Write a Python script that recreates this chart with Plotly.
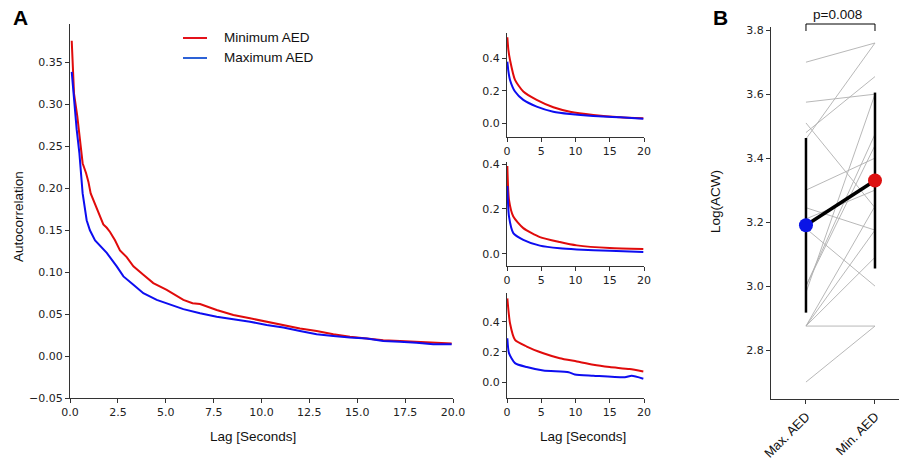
import plotly.graph_objects as go

W, H = 899, 460

# ---------------- data ----------------
main_min_lag = [0.09, 0.21, 0.38, 0.52, 0.66, 0.84, 0.96, 1.08, 1.22, 1.39, 1.57, 1.74, 1.92, 2.09, 2.35, 2.61,
                2.96, 3.31, 3.83, 4.35, 5.05, 5.92, 6.40, 6.79, 7.66, 8.53, 9.40, 10.27, 11.14, 12.01, 12.88,
                13.75, 14.62, 15.49, 16.36, 17.23, 18.10, 18.97, 19.93]
main_min_val = [0.376, 0.313, 0.286, 0.258, 0.230, 0.218, 0.208, 0.194, 0.186, 0.178, 0.166, 0.157, 0.153, 0.148,
                0.138, 0.126, 0.118, 0.107, 0.097, 0.087, 0.079, 0.067, 0.063, 0.062, 0.055, 0.049, 0.045,
                0.041, 0.037, 0.033, 0.030, 0.026, 0.023, 0.021, 0.019, 0.018, 0.017, 0.016, 0.015]
main_max_lag = [0.09, 0.21, 0.35, 0.49, 0.66, 0.87, 1.04, 1.31, 1.62, 1.92, 2.44, 2.79, 3.31, 3.83, 4.53, 5.05,
                5.40, 5.92, 6.79, 7.66, 8.53, 9.40, 10.27, 11.14, 12.01, 12.88, 13.75, 14.62, 15.49, 16.36,
                17.23, 18.10, 18.97, 19.93]
main_max_val = [0.339, 0.302, 0.270, 0.242, 0.194, 0.162, 0.150, 0.138, 0.130, 0.123, 0.107, 0.095, 0.085,
                0.075, 0.067, 0.063, 0.060, 0.056, 0.051, 0.047, 0.044, 0.041, 0.037, 0.034, 0.030, 0.026,
                0.024, 0.022, 0.021, 0.018, 0.017, 0.016, 0.014, 0.014]

p1_min_lag = [0.05, 0.2, 0.44, 1.17, 2.38, 4.33, 6.76, 9.2, 12.6, 16.5, 19.9]
p1_min_val = [0.527, 0.45, 0.388, 0.266, 0.195, 0.144, 0.099, 0.072, 0.052, 0.038, 0.032]
p1_max_lag = [0.05, 0.2, 0.44, 1.17, 2.38, 4.33, 6.76, 9.2, 12.6, 16.5, 19.9]
p1_max_val = [0.378, 0.32, 0.266, 0.195, 0.144, 0.103, 0.072, 0.058, 0.046, 0.038, 0.028]

p2_min_lag = [0.05, 0.29, 0.92, 2.38, 4.8, 7.7, 10.2, 15.0, 19.9]
p2_min_val = [0.391, 0.24, 0.166, 0.114, 0.074, 0.052, 0.037, 0.025, 0.021]
p2_max_lag = [0.05, 0.29, 0.92, 2.38, 4.8, 7.7, 10.2, 15.0, 19.9]
p2_max_val = [0.302, 0.166, 0.092, 0.062, 0.036, 0.024, 0.019, 0.013, 0.008]

p3_min_lag = [0.05, 0.44, 1.17, 2.88, 5.3, 7.7, 10.2, 12.6, 15.0, 17.9, 19.9]
p3_min_val = [0.554, 0.389, 0.279, 0.235, 0.191, 0.158, 0.136, 0.114, 0.099, 0.086, 0.070]
p3_max_lag = [0.05, 0.29, 1.17, 2.88, 5.3, 9.0, 9.9, 12.6, 17.2, 18.2, 19.9]
p3_max_val = [0.29, 0.191, 0.125, 0.099, 0.076, 0.064, 0.050, 0.042, 0.031, 0.041, 0.022]

# Panel B: per-subject log(ACW)
acw_max_aed = [3.70, 3.46, 3.575, 3.48, 3.51, 3.18, 2.875, 2.875, 2.875, 2.70, 3.00, 3.00, 3.30, 3.245,
               2.875, 3.21, 2.98]
acw_min_aed = [3.76, 3.76, 3.60, 3.655, 3.245, 3.00, 3.175, 3.25, 2.875, 2.875, 3.44, 3.475, 3.40, 3.175,
               3.09, 3.30, 3.60]
group_labels = ["Max. AED", "Min. AED"]
group_means = [3.19, 3.33]
group_sds = [0.273, 0.275]
p_text = "p=0.008"

# ---------------- styling ----------------
RED = "#e00b0b"
BLUE = "#0d0df0"
TICKFONT = dict(family="DejaVu Sans", size=11, color="#222")
LABFONT = dict(family="Liberation Sans, Arial", size=13.5, color="#111")


def px_x(x):
    return x / W


def px_y(y):
    return 1 - y / H


def axis(domain, rng, **kw):
    d = dict(domain=domain, range=rng, showline=True, linecolor="#333", linewidth=1,
             ticks="outside", ticklen=4, tickcolor="#333", showgrid=False, zeroline=False,
             tickfont=TICKFONT, fixedrange=True, automargin=False)
    d.update(kw)
    return d


fig = go.Figure()

# main panel
fig.add_trace(go.Scatter(x=main_min_lag, y=main_min_val, mode="lines", line=dict(color=RED, width=2),
                         xaxis="x", yaxis="y", showlegend=False))
fig.add_trace(go.Scatter(x=main_max_lag, y=main_max_val, mode="lines", line=dict(color=BLUE, width=2),
                         xaxis="x", yaxis="y", showlegend=False))

# small panels
for i, (lmn, vmn, lmx, vmx) in enumerate([(p1_min_lag, p1_min_val, p1_max_lag, p1_max_val),
                                          (p2_min_lag, p2_min_val, p2_max_lag, p2_max_val),
                                          (p3_min_lag, p3_min_val, p3_max_lag, p3_max_val)]):
    k = i + 2
    fig.add_trace(go.Scatter(x=lmn, y=vmn, mode="lines", line=dict(color=RED, width=2, shape="spline", smoothing=0.6),
                             xaxis=f"x{k}", yaxis=f"y{k}", showlegend=False))
    fig.add_trace(go.Scatter(x=lmx, y=vmx, mode="lines", line=dict(color=BLUE, width=2, shape="spline", smoothing=0.6),
                             xaxis=f"x{k}", yaxis=f"y{k}", showlegend=False))

# panel B
for a, b in zip(acw_max_aed, acw_min_aed):
    fig.add_trace(go.Scatter(x=[0, 1], y=[a, b], mode="lines", line=dict(color="#b0b0b0", width=0.9),
                             xaxis="x5", yaxis="y5", showlegend=False, hoverinfo="skip"))
fig.add_trace(go.Scatter(x=[0, 1], y=group_means, mode="lines", line=dict(color="black", width=3.5),
                         xaxis="x5", yaxis="y5", showlegend=False,
                         error_y=dict(type="data", array=group_sds, visible=True, color="black",
                                      thickness=2.5, width=0)))
fig.add_trace(go.Scatter(x=[0, 1], y=group_means, mode="markers",
                         marker=dict(color=["#0a14e6", "#dd1111"], size=14, line=dict(width=0)),
                         xaxis="x5", yaxis="y5", showlegend=False))

layout = dict(
    width=W, height=H, margin=dict(l=0, r=0, t=0, b=0, pad=0, autoexpand=False),
    paper_bgcolor="white", plot_bgcolor="white", showlegend=False,
    xaxis=axis([px_x(70), px_x(453)], [0, 20], tickvals=[0, 2.5, 5, 7.5, 10, 12.5, 15, 17.5, 20],
               ticktext=["0.0", "2.5", "5.0", "7.5", "10.0", "12.5", "15.0", "17.5", "20.0"], anchor="y"),
    yaxis=axis([px_y(398), px_y(24)], [-0.05, 0.396],
               tickvals=[-0.05, 0, 0.05, 0.1, 0.15, 0.2, 0.25, 0.3, 0.35],
               ticktext=["\u22120.05", "0.00", "0.05", "0.10", "0.15", "0.20", "0.25", "0.30", "0.35"],
               anchor="x"),
)
small = [((137, 33), [-0.083, 0.553]), ((266, 162), [-0.055, 0.409]), ((398, 293), [-0.106, 0.59])]
for i, ((yb, yt), rng) in enumerate(small):
    k = i + 2
    layout[f"xaxis{k}"] = axis([px_x(507), px_x(644)], [0, 20], tickvals=[0, 5, 10, 15, 20], anchor=f"y{k}")
    layout[f"yaxis{k}"] = axis([px_y(yb), px_y(yt)], rng, tickvals=[0, 0.2, 0.4],
                               ticktext=["0.0", "0.2", "0.4"], anchor=f"x{k}")
layout["xaxis5"] = axis([px_x(771), 1.0], [-0.507, 1.348], tickvals=[0, 1], ticktext=group_labels,
                        tickangle=-45, tickfont=dict(family="Liberation Sans, Arial", size=13, color="#111"),
                        anchor="y5")
layout["yaxis5"] = axis([px_y(399), px_y(27)], [2.647, 3.81], tickvals=[2.8, 3.0, 3.2, 3.4, 3.6, 3.8],
                        ticktext=["2.8", "3.0", "3.2", "3.4", "3.6", "3.8"], anchor="x5")
fig.update_layout(**layout)

ann = []


def text(x, y, s, font, angle=0, **kw):
    d = dict(x=px_x(x), y=px_y(y), xref="paper", yref="paper", text=s, showarrow=False,
             font=font, textangle=angle, xanchor="center", yanchor="middle")
    d.update(kw)
    ann.append(d)


text(20, 17, "<b>A</b>", dict(family="Liberation Sans, Arial", size=21, color="black"))
text(720, 17, "<b>B</b>", dict(family="Liberation Sans, Arial", size=21, color="black"))
text(253, 436, "Lag [Seconds]", LABFONT)
text(583, 436, "Lag [Seconds]", LABFONT)
text(18, 217, "Autocorrelation", LABFONT, angle=-90)
text(715, 202, "Log(ACW)", LABFONT, angle=-90)
text(837, 14, p_text, LABFONT)
text(222, 38, "Minimum AED", LABFONT, xanchor="left")
text(222, 58, "Maximum AED", LABFONT, xanchor="left")
fig.update_layout(annotations=ann)

shapes = [
    dict(type="line", xref="paper", yref="paper", x0=px_x(183), x1=px_x(207), y0=px_y(38), y1=px_y(38),
         line=dict(color="#e3121b", width=2)),
    dict(type="line", xref="paper", yref="paper", x0=px_x(183), x1=px_x(207), y0=px_y(58), y1=px_y(58),
         line=dict(color="#2d62d6", width=2)),
    dict(type="path", xref="x5", yref="paper",
         path=f"M 0,{px_y(31)} L 0,{px_y(24)} L 1,{px_y(24)} L 1,{px_y(31)}",
         line=dict(color="black", width=1)),
]
fig.update_layout(shapes=shapes)

fig.write_html("out.html", config={"displayModeBar": False, "staticPlot": True},
               post_script="document.body.style.margin='0';document.body.style.padding='0';")
